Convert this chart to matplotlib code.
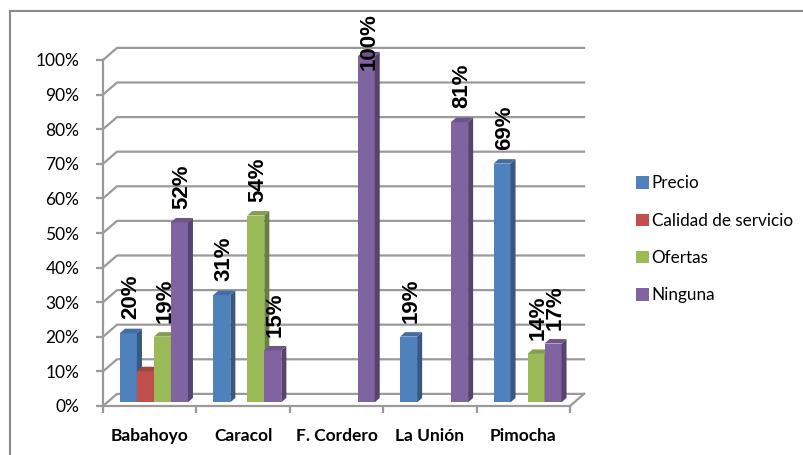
import matplotlib
matplotlib.use("Agg")
import matplotlib.pyplot as plt
from matplotlib.patches import Polygon, Rectangle, Patch
import numpy as np

# ───── Data ─────
categories = ["Babahoyo", "Caracol", "F. Cordero", "La Unión", "Pimocha"]
series = ["Precio", "Calidad de servicio", "Ofertas", "Ninguna"]
precio = [20, 31, 0, 19, 69]
calidad = [9, 0, 0, 0, 0]
ofertas = [19, 54, 0, 0, 14]
ninguna = [52, 15, 100, 81, 17]
show_label = [True, False, True, True]   # the red series has no data labels
yticks = list(range(0, 101, 10))

values = [precio, calidad, ofertas, ninguna]
colors = ["#4F81BD", "#C0504D", "#9BBB59", "#8064A2"]


def shade(c, k):
    rgb = np.array(matplotlib.colors.to_rgb(c))
    return tuple(rgb * k)


# ───── Figure / axes ─────
W, H = 804, 455
fig = plt.figure(figsize=(W / 100, H / 100), dpi=100)
x0, x1, y0, y1 = 103, 570, 406, 60          # front plane of the plot, pixels
ax = fig.add_axes([x0 / W, (H - y0) / H, (x1 - x0) / W, (y0 - y1) / H])
ax.set_xlim(-0.5, 4.5)
ax.set_ylim(0, 100)
ax.patch.set_visible(False)

grid_c = "#9a9a9a"
DX, DY = 0.15, 3.5            # depth of the 3D box in data units

# back wall gridlines with diagonal connectors
for t in yticks:
    ax.plot([-0.5, -0.5 + DX, 4.5 + DX], [t, t + DY, t + DY],
            color=grid_c, lw=1.6, clip_on=False, zorder=1)
# floor right edge
ax.plot([4.5, 4.5 + DX], [0, DY], color=grid_c, lw=1.6, clip_on=False, zorder=1)

for s in ["top", "right"]:
    ax.spines[s].set_visible(False)
for s in ["left", "bottom"]:
    ax.spines[s].set_color(grid_c)
    ax.spines[s].set_linewidth(1.6)

ax.set_yticks(yticks)
ax.set_yticklabels([f"{t}%" for t in yticks], fontsize=12.5, family="Lato")
ax.tick_params(axis="y", length=5, width=1.6, color=grid_c, pad=12)
ax.set_xticks(np.arange(-0.5, 5, 1))
ax.set_xticklabels([])
ax.tick_params(axis="x", which="major", length=5, width=1.6, color=grid_c)
ax.set_xticks(range(len(categories)), minor=True)
ax.set_xticklabels(categories, minor=True, fontsize=12.5, family="Lato",
                   fontweight="bold")
ax.tick_params(axis="x", which="minor", length=0, pad=16)

# ───── 3D bars ─────
f = 0.3                      # bars stand slightly behind the front plane
bw = 0.182
sx, sy = 0.054, 1.3          # side / top face depth
for c in range(len(categories)):
    for i, vals in enumerate(values):
        v = vals[c]
        if v <= 0:
            continue
        x = c - 2 * bw + i * bw + f * DX
        b = f * DY
        col = colors[i]
        ax.add_patch(Rectangle((x, b), bw, v, facecolor=col, edgecolor="none",
                               zorder=3, clip_on=False))
        ax.add_patch(Polygon([(x + bw, b), (x + bw + sx, b + sy),
                              (x + bw + sx, b + v + sy), (x + bw, b + v)],
                             facecolor=shade(col, 0.68), edgecolor="none",
                             zorder=3, clip_on=False))
        ax.add_patch(Polygon([(x, b + v), (x + sx, b + v + sy),
                              (x + bw + sx, b + v + sy), (x + bw, b + v)],
                             facecolor=shade(col, 0.85), edgecolor="none",
                             zorder=3, clip_on=False))
        if show_label[i]:
            ax.text(x + (bw + sx) / 2, min(v + b + 4.0, 97), f"{v}%",
                    rotation=90, ha="center", va="bottom", fontsize=16,
                    fontweight="bold", family="Liberation Sans", zorder=5,
                    clip_on=False)

# ───── Legend ─────
handles = [Patch(facecolor=c, edgecolor="none") for c in colors]
leg = fig.legend(handles, series, loc="upper left",
                 bbox_to_anchor=(621 / W, 1 - 160 / H), frameon=False,
                 prop={"family": "Lato", "size": 12.3}, handlelength=0.75,
                 handleheight=0.75, handletextpad=0.15, labelspacing=1.25)

# chart area border
fig.patches.append(Rectangle((10 / W, -0.1), 1.1, (H - 11) / H + 0.1,
                             transform=fig.transFigure, fill=False,
                             edgecolor="#8a8a8a", lw=1.5))

fig.savefig("out.png", dpi=100)
